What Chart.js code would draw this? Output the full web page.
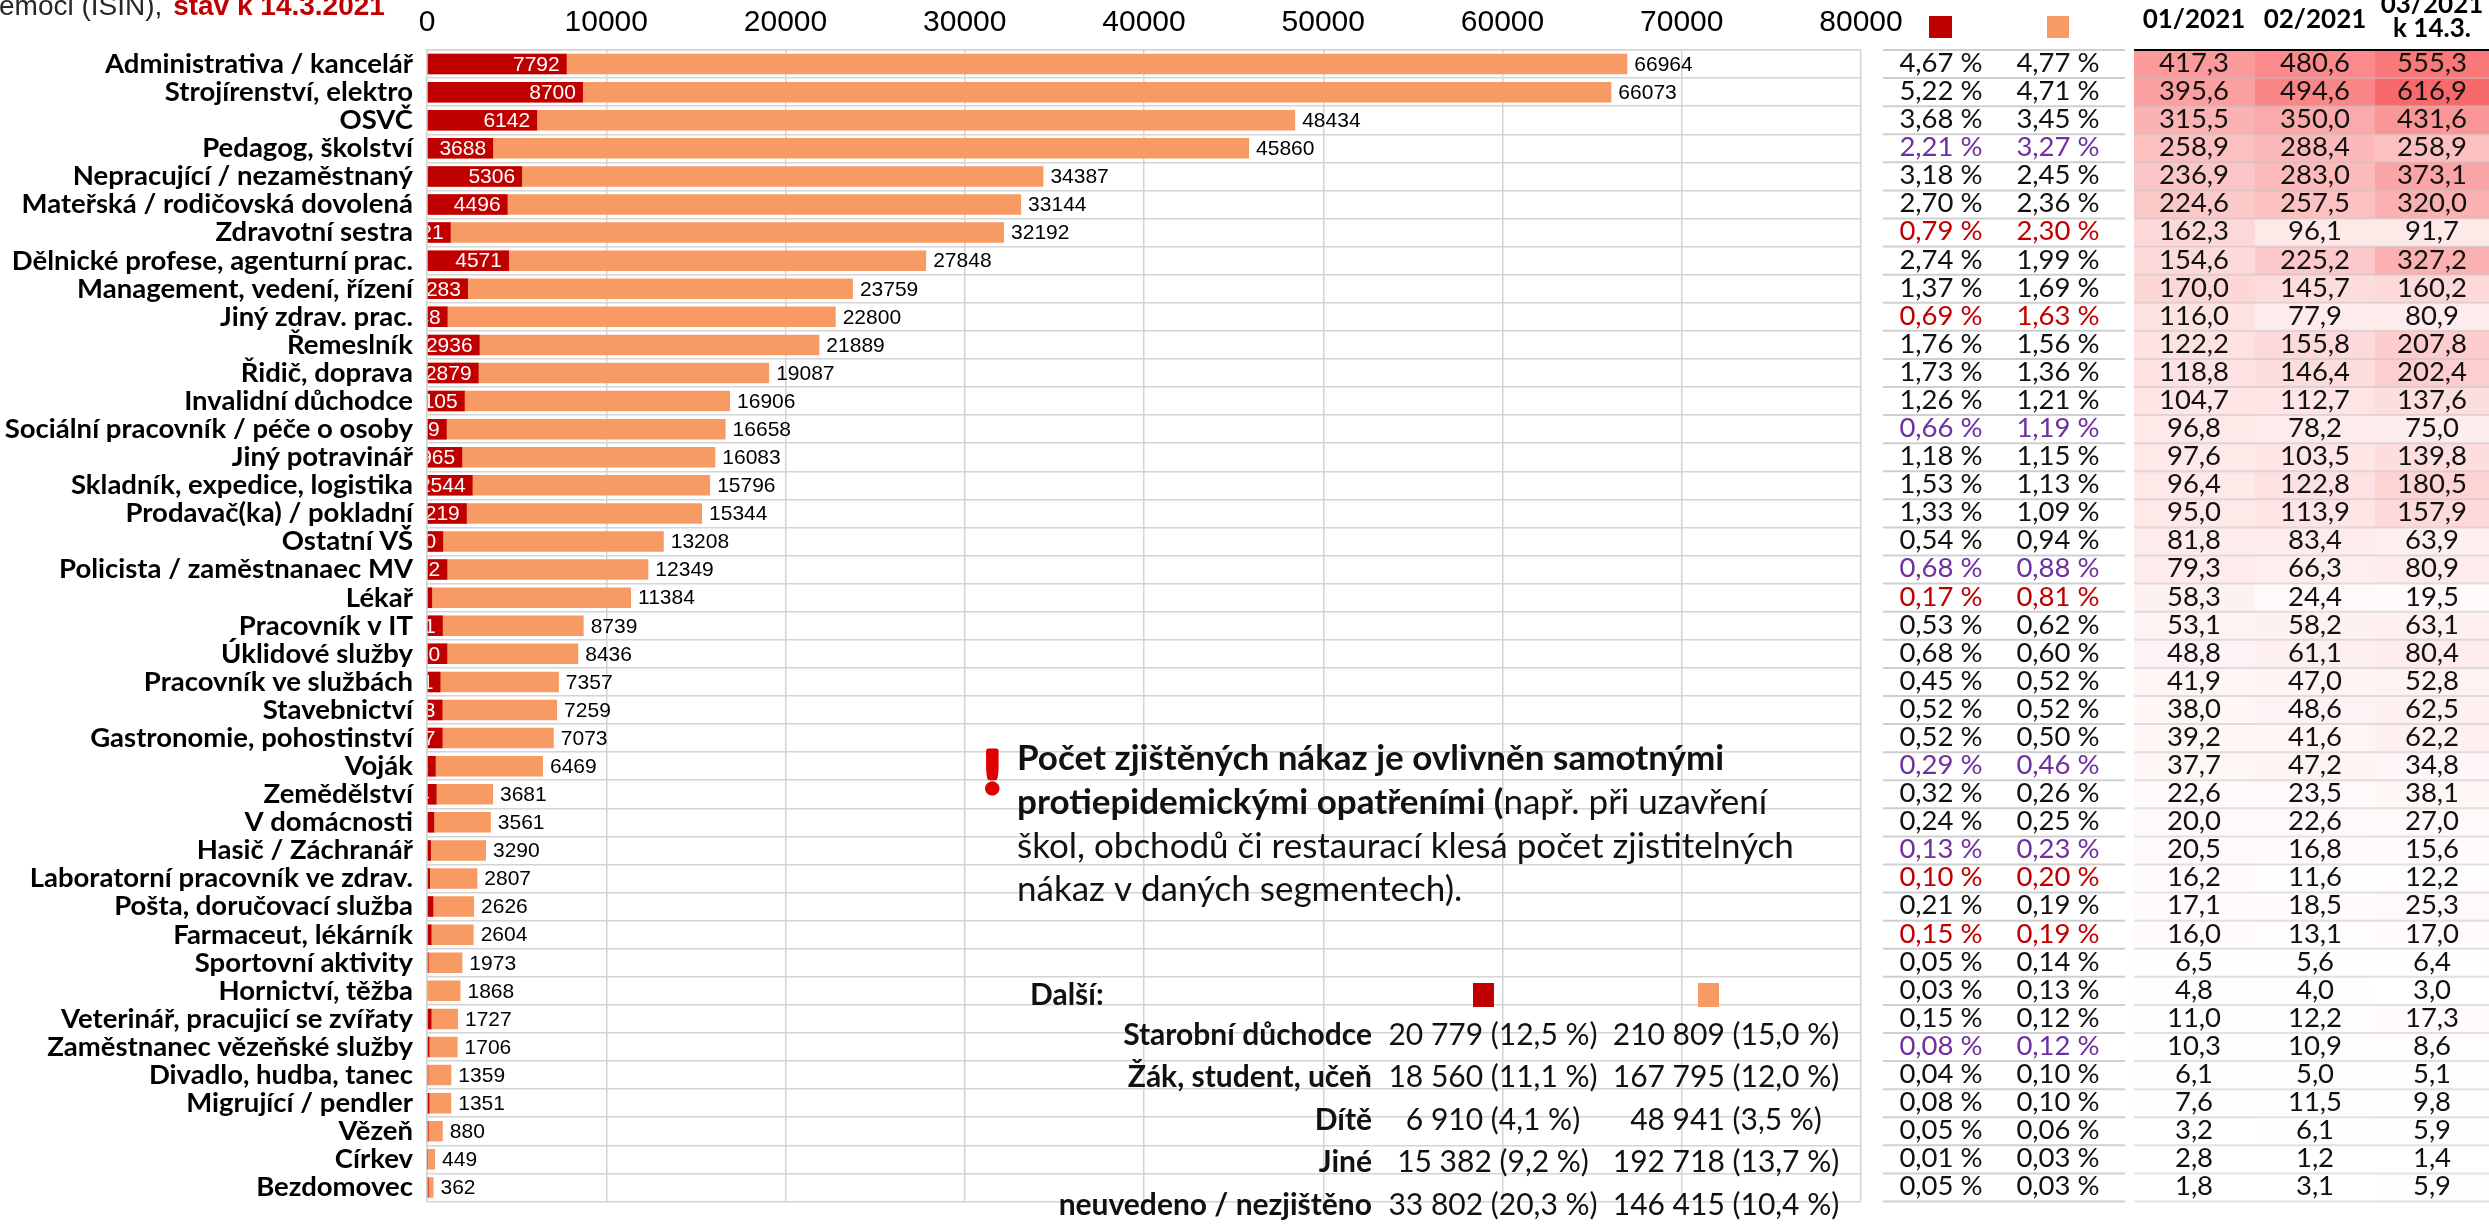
<!DOCTYPE html>
<html lang="cs">
<head>
<meta charset="utf-8">
<title>Profese – počet nákaz</title>
<script src="https://cdn.jsdelivr.net/npm/chart.js@4.4.1/dist/chart.umd.min.js"></script>
<style>
  html, body { margin: 0; padding: 0; background: #fff; overflow: hidden; }
  canvas { display: block; }
</style>
</head>
<body>
<canvas id="chart" width="2489" height="1232"></canvas>
<script>
// Profese / segmenty
const categories = [
  'Administrativa / kancelář', 'Strojírenství, elektro', 'OSVČ', 'Pedagog, školství',
  'Nepracující / nezaměstnaný', 'Mateřská / rodičovská dovolená', 'Zdravotní sestra',
  'Dělnické profese, agenturní prac.', 'Management, vedení, řízení', 'Jiný zdrav. prac.',
  'Řemeslník', 'Řidič, doprava', 'Invalidní důchodce', 'Sociální pracovník / péče o osoby',
  'Jiný potravinář', 'Skladník, expedice, logistika', 'Prodavač(ka) / pokladní', 'Ostatní VŠ',
  'Policista / zaměstnanaec MV', 'Lékař', 'Pracovník v IT', 'Úklidové služby',
  'Pracovník ve službách', 'Stavebnictví', 'Gastronomie, pohostinství', 'Voják',
  'Zemědělství', 'V domácnosti', 'Hasič / Záchranář', 'Laboratorní pracovník ve zdrav.',
  'Pošta, doručovací služba', 'Farmaceut, lékárník', 'Sportovní aktivity', 'Hornictví, těžba',
  'Veterinář, pracujicí se zvířaty', 'Zaměstnanec vězeňské služby', 'Divadlo, hudba, tanec',
  'Migrující / pendler', 'Vězeň', 'Církev', 'Bezdomovec'
];

// Počet nákaz – tmavě červená řada
const redCases = [
  7792, 8700, 6142, 3688, 5306, 4496, 1321, 4571, 2283, 1148,
  2936, 2879, 2105, 1099, 1965, 2544, 2219, 900, 1132, 284,
  881, 1130, 751, 863, 867, 484, 534, 400, 217, 167,
  350, 250, 83, 50, 250, 133, 67, 133, 83, 17, 83
];

// Počet nákaz – oranžová řada
const orangeCases = [
  66964, 66073, 48434, 45860, 34387, 33144, 32192, 27848, 23759, 22800,
  21889, 19087, 16906, 16658, 16083, 15796, 15344, 13208, 12349, 11384,
  8739, 8436, 7357, 7259, 7073, 6469, 3681, 3561, 3290, 2807,
  2626, 2604, 1973, 1868, 1727, 1706, 1359, 1351, 880, 449, 362
];

// Podíl v procentech
const redShare = [
  4.67, 5.22, 3.68, 2.21, 3.18, 2.70, 0.79, 2.74, 1.37, 0.69,
  1.76, 1.73, 1.26, 0.66, 1.18, 1.53, 1.33, 0.54, 0.68, 0.17,
  0.53, 0.68, 0.45, 0.52, 0.52, 0.29, 0.32, 0.24, 0.13, 0.10,
  0.21, 0.15, 0.05, 0.03, 0.15, 0.08, 0.04, 0.08, 0.05, 0.01, 0.05
];
const orangeShare = [
  4.77, 4.71, 3.45, 3.27, 2.45, 2.36, 2.30, 1.99, 1.69, 1.63,
  1.56, 1.36, 1.21, 1.19, 1.15, 1.13, 1.09, 0.94, 0.88, 0.81,
  0.62, 0.60, 0.52, 0.52, 0.50, 0.46, 0.26, 0.25, 0.23, 0.20,
  0.19, 0.19, 0.14, 0.13, 0.12, 0.12, 0.10, 0.10, 0.06, 0.03, 0.03
];

// Měsíční hodnoty 01/2021, 02/2021, 03/2021 (k 14.3.)
const rate01 = [
  417.3, 395.6, 315.5, 258.9, 236.9, 224.6, 162.3, 154.6, 170.0, 116.0,
  122.2, 118.8, 104.7, 96.8, 97.6, 96.4, 95.0, 81.8, 79.3, 58.3,
  53.1, 48.8, 41.9, 38.0, 39.2, 37.7, 22.6, 20.0, 20.5, 16.2,
  17.1, 16.0, 6.5, 4.8, 11.0, 10.3, 6.1, 7.6, 3.2, 2.8, 1.8
];
const rate02 = [
  480.6, 494.6, 350.0, 288.4, 283.0, 257.5, 96.1, 225.2, 145.7, 77.9,
  155.8, 146.4, 112.7, 78.2, 103.5, 122.8, 113.9, 83.4, 66.3, 24.4,
  58.2, 61.1, 47.0, 48.6, 41.6, 47.2, 23.5, 22.6, 16.8, 11.6,
  18.5, 13.1, 5.6, 4.0, 12.2, 10.9, 5.0, 11.5, 6.1, 1.2, 3.1
];
const rate03 = [
  555.3, 616.9, 431.6, 258.9, 373.1, 320.0, 91.7, 327.2, 160.2, 80.9,
  207.8, 202.4, 137.6, 75.0, 139.8, 180.5, 157.9, 63.9, 80.9, 19.5,
  63.1, 80.4, 52.8, 62.5, 62.2, 34.8, 38.1, 27.0, 15.6, 12.2,
  25.3, 17.0, 6.4, 3.0, 17.3, 8.6, 5.1, 9.8, 5.9, 1.4, 5.9
];
const rateHeaders = [['01/2021'], ['02/2021'], ['03/2021', 'k 14.3.']];

// Zvýraznění řádků: z = zdravotnictví, s = veřejná služba
const rowGroup = [
  '', '', '', 's', '', '', 'z', '', '', 'z',
  '', '', '', 's', '', '', '', '', 's', 'z',
  '', '', '', '', '', 's', '', '', 's', 'z',
  '', 'z', '', '', '', 's', '', '', '', '', ''
];

// Popisky osy x
const xTicks = [0, 10000, 20000, 30000, 40000, 50000, 60000, 70000, 80000];

// Další skupiny
const otherLabels = ['Starobní důchodce', 'Žák, student, učeň', 'Dítě', 'Jiné', 'neuvedeno / nezjištěno'];
const otherRedCount = [20779, 18560, 6910, 15382, 33802];
const otherRedPct = [12.5, 11.1, 4.1, 9.2, 20.3];
const otherOrangeCount = [210809, 167795, 48941, 192718, 146415];
const otherOrangePct = [15.0, 12.0, 3.5, 13.7, 10.4];

const RED = '#C00000';
const ORANGE = '#F89A63';
const GRID = '#d4d4d4';
const SANS = '"Liberation Sans", Arial, sans-serif';
const LATO = 'Lato, "Noto Sans", sans-serif';
const TONE = { '': '#111111', z: '#C00000', s: '#7030A0' };

const csNum = (v, d) => v.toFixed(d).replace('.', ',');
const groupThousands = v => String(v).replace(/\B(?=(\d{3})+(?!\d))/g, '\u00a0');

function heatColor(v, lo, hi) {
  const t = Math.max(0, Math.min(1, (v - lo) / (hi - lo)));
  const mix = (a, b) => Math.round(a + (b - a) * t);
  return `rgb(${mix(255, 248)},${mix(255, 105)},${mix(255, 107)})`;
}

const overlay = {
  id: 'overlay',
  afterDatasetsDraw(chart) {
    const ctx = chart.ctx;
    const redMeta = chart.getDatasetMeta(0);
    const orMeta = chart.getDatasetMeta(1);
    ctx.save();
    ctx.font = `21px ${SANS}`;
    ctx.textBaseline = 'middle';
    orMeta.data.forEach((bar, i) => {
      ctx.fillStyle = '#000';
      ctx.textAlign = 'left';
      ctx.fillText(String(orangeCases[i]), bar.x + 7, bar.y + 1);
    });
    redMeta.data.forEach((bar, i) => {
      const w = bar.x - bar.base;
      ctx.save();
      ctx.beginPath();
      ctx.rect(bar.base, bar.y - bar.height / 2, w, bar.height);
      ctx.clip();
      ctx.fillStyle = '#fff';
      ctx.textAlign = 'right';
      ctx.fillText(String(redCases[i]), bar.x - 7, bar.y + 1);
      ctx.restore();
    });
    ctx.restore();
  },
  afterDraw(chart) {
    const ctx = chart.ctx;
    const area = chart.chartArea;
    const ys = chart.scales.y;
    const rowH = ys.getPixelForValue(1) - ys.getPixelForValue(0);
    const top0 = ys.getPixelForValue(0) - rowH / 2;
    const R = area.right;

    const pctX = [R + 80, R + 197];
    const lineL = [R + 22, R + 264];
    const heatX = [R + 273, R + 394, R + 514, chart.width];
    const all = rate01.concat(rate02, rate03);
    const lo = Math.min(...all), hi = Math.max(...all);
    const rates = [rate01, rate02, rate03];
    const colCenter = c => (heatX[c] + Math.min(heatX[c + 1], heatX[c] + 120)) / 2;

    ctx.save();
    // heatmap cells
    categories.forEach((_, i) => {
      const y = top0 + i * rowH;
      rates.forEach((col, c) => {
        ctx.fillStyle = heatColor(col[i], lo, hi);
        ctx.fillRect(heatX[c], y, heatX[c + 1] - heatX[c], rowH + 0.5);
      });
    });
    // row separators
    for (let k = 0; k <= categories.length; k++) {
      const y = top0 + k * rowH;
      ctx.lineWidth = 2;
      ctx.strokeStyle = '#cfcfcf';
      ctx.beginPath(); ctx.moveTo(lineL[0], y); ctx.lineTo(lineL[1], y); ctx.stroke();
      ctx.strokeStyle = 'rgba(190,190,190,0.45)';
      ctx.beginPath(); ctx.moveTo(heatX[0], y); ctx.lineTo(chart.width, y); ctx.stroke();
    }
    ctx.strokeStyle = '#000';
    ctx.lineWidth = 2;
    ctx.beginPath(); ctx.moveTo(heatX[0], top0); ctx.lineTo(chart.width, top0); ctx.stroke();

    // table texts
    ctx.textBaseline = 'middle';
    ctx.textAlign = 'center';
    categories.forEach((_, i) => {
      const yc = top0 + (i + 0.5) * rowH - 1;
      ctx.font = `27.5px ${LATO}`;
      ctx.fillStyle = TONE[rowGroup[i]];
      ctx.fillText(csNum(redShare[i], 2) + ' %', pctX[0], yc);
      ctx.fillText(csNum(orangeShare[i], 2) + ' %', pctX[1], yc);
      ctx.fillStyle = '#111';
      rates.forEach((col, c) => {
        ctx.fillText(csNum(col[i], 1), colCenter(c), yc);
      });
    });

    // column headers
    ctx.font = `bold 26px ${LATO}`;
    ctx.fillStyle = '#000';
    rateHeaders.forEach((lines, c) => {
      const xc = colCenter(c);
      if (lines.length === 1) {
        ctx.fillText(lines[0], xc, 20);
      } else {
        ctx.fillText(lines[0], xc, 5);
        ctx.fillText(lines[1], xc, 29);
      }
    });
    // series keys
    ctx.fillStyle = RED;
    ctx.fillRect(pctX[0] - 12, 16, 23, 22);
    ctx.fillStyle = ORANGE;
    ctx.fillRect(pctX[1] - 11, 16, 22, 22);

    // title fragment
    ctx.textAlign = 'left';
    ctx.textBaseline = 'alphabetic';
    ctx.font = `28px ${SANS}`;
    ctx.fillStyle = '#262626';
    const part1 = 'emoci (ISIN), ';
    ctx.fillText(part1, -1, 15);
    const w1 = ctx.measureText(part1).width;
    ctx.font = `bold 28px ${SANS}`;
    ctx.fillStyle = RED;
    ctx.fillText('stav k 14.3.2021', w1 + 2, 15);

    // note
    ctx.fillStyle = '#E00000';
    ctx.strokeStyle = '#E00000';
    ctx.lineWidth = 5;
    ctx.lineJoin = 'round';
    ctx.font = `900 58px ${LATO}`;
    ctx.fillText('!', 984, 793);
    ctx.strokeText('!', 984, 793);
    const nx = 1017;
    ctx.textBaseline = 'middle';
    ctx.fillStyle = '#111';
    ctx.font = `bold 35px ${LATO}`;
    ctx.fillText('Počet zjištěných nákaz je ovlivněn samotnými', nx, 759);
    const b2 = 'protiepidemickými opatřeními (';
    ctx.fillText(b2, nx, 803);
    const wb2 = ctx.measureText(b2).width;
    ctx.font = `35px ${LATO}`;
    ctx.fillText('např. při uzavření', nx + wb2, 803);
    ctx.fillText('škol, obchodů či restaurací klesá počet zjistitelných', nx, 847);
    ctx.fillText('nákaz v daných segmentech).', nx, 890);

    // other groups
    ctx.font = `bold 30px ${LATO}`;
    ctx.fillText('Další:', 1030, 995);
    ctx.fillStyle = RED;
    ctx.fillRect(1473, 983, 21, 24);
    ctx.fillStyle = ORANGE;
    ctx.fillRect(1698, 983, 21, 24);
    const rowY = [1035, 1077, 1120, 1162, 1205];
    otherLabels.forEach((lab, i) => {
      ctx.fillStyle = '#111';
      ctx.textAlign = 'right';
      ctx.font = `bold 30px ${LATO}`;
      ctx.fillText(lab, 1372, rowY[i]);
      ctx.textAlign = 'center';
      ctx.font = `30px ${LATO}`;
      ctx.fillText(`${groupThousands(otherRedCount[i])} (${csNum(otherRedPct[i], 1)} %)`, 1493, rowY[i]);
      ctx.fillText(`${groupThousands(otherOrangeCount[i])} (${csNum(otherOrangePct[i], 1)} %)`, 1726, rowY[i]);
    });
    ctx.restore();
  }
};

new Chart(document.getElementById('chart'), {
  type: 'bar',
  data: {
    labels: categories,
    datasets: [
      { label: 'red', data: redCases, backgroundColor: RED, grouped: false,
        barPercentage: 0.73, categoryPercentage: 1 },
      { label: 'orange', data: orangeCases, backgroundColor: ORANGE, grouped: false,
        barPercentage: 0.73, categoryPercentage: 1 }
    ]
  },
  options: {
    indexAxis: 'y',
    responsive: false,
    animation: false,
    devicePixelRatio: 1,
    layout: { padding: { left: 0, right: 628, top: 0, bottom: 0 } },
    plugins: { legend: { display: false }, tooltip: { enabled: false } },
    scales: {
      x: {
        position: 'top',
        min: 0, max: 80000,
        afterBuildTicks: s => { s.ticks = xTicks.map(v => ({ value: v })); },
        afterFit: s => { s.height = 50; },
        ticks: { callback: v => String(v), color: '#000', font: { family: SANS, size: 30 }, padding: 9, maxRotation: 0 },
        grid: { color: GRID, lineWidth: 1.5, drawTicks: false },
        border: { color: GRID, width: 1.5 }
      },
      y: {
        afterFit: s => { s.width = 427; },
        ticks: { color: '#000', font: { family: LATO, size: 27.5, weight: 'bold' }, padding: 14, autoSkip: false },
        grid: { color: GRID, lineWidth: 1.5, drawTicks: false, offset: true },
        border: { color: GRID, width: 1.5 }
      }
    }
  },
  plugins: [overlay]
});
</script>
</body>
</html>
